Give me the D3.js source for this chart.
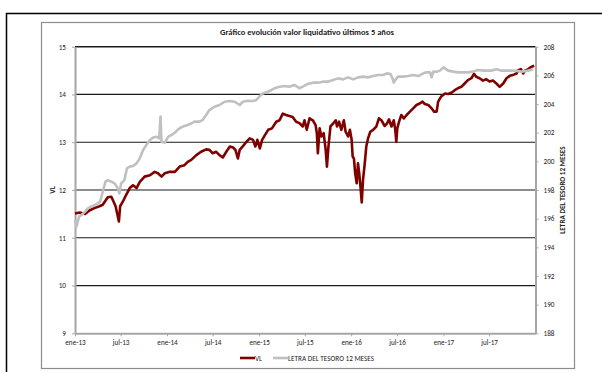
<!DOCTYPE html>
<html>
<head>
<meta charset="utf-8">
<script src="https://cdn.jsdelivr.net/npm/d3@7"></script>
<style>
  html, body { margin: 0; padding: 0; background: #fff; }
  svg { display: block; }
  text { font-family: Carlito, Lato, "Open Sans", sans-serif; fill: #222; }
</style>
</head>
<body>
<svg id="chart" width="602" height="372"></svg>
<script>
// Fund net asset value (left axis)
const vlDates = [
  "2013-01-01","2013-01-20","2013-02-10","2013-02-27","2013-03-19","2013-04-08","2013-04-21","2013-05-11",
  "2013-05-25","2013-05-31","2013-06-11","2013-06-20","2013-06-24","2013-06-29","2013-07-10","2013-07-23",
  "2013-08-06","2013-08-19","2013-09-02","2013-09-15","2013-10-04","2013-10-25","2013-11-13","2013-11-26",
  "2013-12-10","2013-12-23","2014-01-12","2014-02-01","2014-02-20","2014-03-11","2014-03-24","2014-04-07",
  "2014-04-27","2014-05-16","2014-06-05","2014-06-18","2014-07-01","2014-07-15","2014-07-28","2014-08-10",
  "2014-08-24","2014-09-07","2014-09-20","2014-09-29","2014-10-09","2014-10-16","2014-10-29","2014-11-12",
  "2014-11-25","2014-12-08","2014-12-17","2014-12-25","2015-01-04","2015-01-13","2015-01-24","2015-02-06",
  "2015-02-21","2015-03-10","2015-03-23","2015-04-05","2015-04-18","2015-05-01","2015-05-14","2015-05-28",
  "2015-06-10","2015-06-23","2015-06-30","2015-07-09","2015-07-20","2015-08-02","2015-08-13","2015-08-18",
  "2015-08-22","2015-08-29","2015-09-05","2015-09-14","2015-09-22","2015-09-27","2015-10-03","2015-10-11",
  "2015-10-21","2015-11-01","2015-11-06","2015-11-14","2015-11-23","2015-12-03","2015-12-10","2015-12-20",
  "2015-12-27","2016-01-03","2016-01-07","2016-01-12","2016-01-17","2016-01-23","2016-01-28","2016-02-02",
  "2016-02-07","2016-02-12","2016-02-17","2016-02-24","2016-03-01","2016-03-08","2016-03-17","2016-03-28",
  "2016-04-10","2016-04-20","2016-04-30","2016-05-13","2016-05-22","2016-05-30","2016-06-09","2016-06-18",
  "2016-06-24","2016-06-28","2016-07-02","2016-07-09","2016-07-18","2016-07-28","2016-08-08","2016-08-21",
  "2016-09-03","2016-09-16","2016-09-29","2016-10-10","2016-10-19","2016-11-02","2016-11-15","2016-11-25",
  "2016-12-05","2016-12-11","2016-12-22","2017-01-07","2017-01-20","2017-02-03","2017-02-15","2017-02-27",
  "2017-03-13","2017-03-26","2017-04-08","2017-04-22","2017-05-02","2017-05-11","2017-05-24","2017-06-07",
  "2017-06-20","2017-07-03","2017-07-16","2017-07-30","2017-08-12","2017-08-26","2017-09-08","2017-09-21",
  "2017-10-04","2017-10-18","2017-10-24","2017-11-04","2017-11-13","2017-11-20","2017-12-03","2017-12-16",
  "2017-12-27"
];
const vlValues = [
  11.51,11.53,11.50,11.57,11.62,11.66,11.69,11.85,
  11.86,11.79,11.66,11.44,11.34,11.66,11.76,11.90,
  12.04,12.10,12.04,12.17,12.28,12.31,12.38,12.35,
  12.28,12.35,12.38,12.38,12.49,12.52,12.59,12.63,
  12.73,12.80,12.85,12.84,12.77,12.80,12.73,12.68,
  12.80,12.91,12.89,12.84,12.66,12.84,12.92,13.01,
  13.08,13.05,12.91,13.05,12.87,13.05,13.15,13.26,
  13.29,13.43,13.46,13.60,13.57,13.55,13.53,13.43,
  13.40,13.33,13.46,13.26,13.50,13.46,13.36,13.19,
  12.77,13.29,13.12,13.19,12.84,12.49,12.91,13.33,
  13.39,13.46,13.33,13.43,13.26,13.46,13.22,13.12,
  13.26,13.05,12.70,12.66,12.35,12.14,12.56,12.35,
  12.07,11.74,12.21,12.56,12.91,13.08,13.22,13.26,
  13.33,13.50,13.46,13.34,13.39,13.48,13.33,13.46,
  13.26,13.01,13.29,13.43,13.57,13.50,13.57,13.64,
  13.71,13.78,13.81,13.85,13.80,13.78,13.71,13.64,
  13.64,13.85,13.95,14.02,14.01,14.04,14.09,14.13,
  14.16,14.23,14.30,14.34,14.43,14.37,14.34,14.29,
  14.32,14.27,14.29,14.23,14.16,14.23,14.34,14.39,
  14.41,14.44,14.51,14.53,14.44,14.50,14.53,14.58,
  14.60
];

// 12-month Treasury bill index (right axis)
const letraDates = [
  "2013-01-01","2013-01-07","2013-01-17","2013-01-27","2013-02-10","2013-02-21","2013-03-06","2013-03-19",
  "2013-04-02","2013-04-11","2013-04-21","2013-05-02","2013-05-11","2013-05-25","2013-06-07","2013-06-20",
  "2013-06-26","2013-07-03","2013-07-16","2013-07-26","2013-08-06","2013-08-19","2013-09-02","2013-09-15",
  "2013-09-28","2013-10-11","2013-10-25","2013-11-07","2013-11-20","2013-12-01","2013-12-06","2013-12-10",
  "2013-12-23","2014-01-06","2014-01-19","2014-02-01","2014-02-14","2014-02-26","2014-03-11","2014-03-24",
  "2014-04-07","2014-04-20","2014-05-09","2014-05-22","2014-06-05","2014-06-18","2014-07-08","2014-07-28",
  "2014-08-17","2014-09-07","2014-09-26","2014-10-16","2014-10-29","2014-11-18","2014-12-08","2014-12-21",
  "2015-01-04","2015-01-17","2015-02-06","2015-02-19","2015-03-03","2015-03-23","2015-04-12","2015-05-01",
  "2015-05-21","2015-06-10","2015-06-23","2015-07-13","2015-08-02","2015-08-22","2015-09-11","2015-10-01",
  "2015-10-21","2015-11-10","2015-11-30","2015-12-20","2016-01-09","2016-01-29","2016-02-17","2016-03-08",
  "2016-03-28","2016-04-16","2016-05-06","2016-05-22","2016-06-05","2016-06-13","2016-06-18","2016-06-26",
  "2016-07-05","2016-07-25","2016-08-14","2016-09-03","2016-09-23","2016-10-13","2016-10-26","2016-11-09",
  "2016-11-15","2016-11-22","2016-12-05","2016-12-18","2017-01-01","2017-01-07","2017-01-20","2017-02-09",
  "2017-02-27","2017-03-19","2017-04-08","2017-04-28","2017-05-18","2017-06-14","2017-07-10","2017-07-30",
  "2017-08-19","2017-09-15","2017-10-11","2017-11-07","2017-12-03","2017-12-23"
];
const letraValues = [
  195.90,195.44,196.14,196.26,196.49,196.72,196.84,196.95,
  197.07,197.19,197.88,198.58,198.69,198.58,198.46,198.12,
  197.77,198.46,198.69,199.51,199.63,199.67,199.86,200.21,
  200.79,201.14,201.49,201.67,201.72,201.60,203.12,201.37,
  201.30,201.72,201.84,202.00,202.23,202.37,202.47,202.54,
  202.65,202.77,202.77,202.88,203.23,203.58,203.81,203.93,
  204.16,204.21,204.16,203.93,204.16,204.23,204.21,204.28,
  204.56,204.75,204.86,204.98,205.10,205.21,205.26,205.21,
  205.33,205.10,205.21,205.40,205.49,205.49,205.56,205.56,
  205.68,205.79,205.72,205.86,205.72,205.86,205.91,205.86,
  205.95,206.03,206.03,206.14,206.10,205.79,205.49,205.72,
  205.91,205.91,205.95,206.03,205.95,206.14,206.21,206.21,
  205.86,206.26,206.26,206.33,206.56,206.49,206.33,206.26,
  206.21,206.21,206.21,206.26,206.37,206.33,206.33,206.42,
  206.33,206.33,206.33,206.26,206.33,206.42
];

const leftTicks = [9, 10, 11, 12, 13, 14, 15];
const rightTicks = [188, 190, 192, 194, 196, 198, 200, 202, 204, 206, 208];
const xTickDates = ["2013-01-01","2013-07-01","2014-01-01","2014-07-01","2015-01-01","2015-07-01",
                    "2016-01-01","2016-07-01","2017-01-01","2017-07-01"];
const xTickLabels = ["ene-13","jul-13","ene-14","jul-14","ene-15","jul-15",
                     "ene-16","jul-16","ene-17","jul-17"];
const seriesNames = ["VL", "LETRA DEL TESORO 12 MESES"];
const chartTitle = "Gráfico evolución valor liquidativo últimos 5 años";

const parse = d3.utcParse("%Y-%m-%d");
const vl = vlDates.map((d, i) => ({ date: parse(d), value: vlValues[i] }));
const letra = letraDates.map((d, i) => ({ date: parse(d), value: letraValues[i] }));

const plot = { left: 75, right: 535.5, top: 46.7, bottom: 333.3 };

const svg = d3.select("#chart");

// outer frame and chart area frame
svg.append("rect").attr("x", 6.5).attr("y", 13.5).attr("width", 640).attr("height", 400)
  .attr("fill", "none").attr("stroke", "#000").attr("stroke-width", 1.5);
svg.append("rect").attr("x", 41.5).attr("y", 22.5).attr("width", 533).attr("height", 346)
  .attr("fill", "#fff").attr("stroke", "#8c8c8c").attr("stroke-width", 1.2);

const x = d3.scaleUtc()
  .domain([parse("2013-01-01"), parse("2018-01-01")])
  .range([plot.left, plot.right]);
const yL = d3.scaleLinear().domain([9, 15]).range([plot.bottom, plot.top]);
const yR = d3.scaleLinear().domain([188, 208]).range([plot.bottom, plot.top]);

// horizontal gridlines
svg.append("g").selectAll("line")
  .data(leftTicks.filter(t => t > 9))
  .join("line")
  .attr("x1", plot.left).attr("x2", plot.right)
  .attr("y1", d => yL(d)).attr("y2", d => yL(d))
  .attr("stroke", "#1a1a1a").attr("stroke-width", d => d === 15 ? 1.6 : 1.2);

function styleAxis(g) {
  g.select(".domain").attr("stroke", "#a6a6a6").attr("stroke-width", 2);
  g.selectAll(".tick line").attr("stroke", "#a6a6a6").attr("stroke-width", 1);
  g.selectAll(".tick text").attr("font-size", 7.2).attr("fill", "#333")
    .style("font-family", "Carlito, Lato, sans-serif");
}

svg.append("g").attr("transform", `translate(${plot.left},0)`)
  .call(d3.axisLeft(yL).tickValues(leftTicks).tickSize(3).tickSizeOuter(0).tickPadding(6).tickFormat(d3.format("d")))
  .call(styleAxis);

svg.append("g").attr("transform", `translate(${plot.right},0)`)
  .call(d3.axisRight(yR).tickValues(rightTicks).tickSize(3).tickSizeOuter(0).tickPadding(5).tickFormat(d3.format("d")))
  .call(styleAxis);

svg.append("g").attr("transform", `translate(0,${plot.bottom})`)
  .call(d3.axisBottom(x).tickValues(xTickDates.map(parse)).tickSize(3).tickSizeOuter(0).tickPadding(4)
    .tickFormat((d, i) => xTickLabels[i]))
  .call(styleAxis);

// series lines
const lineL = d3.line().x(d => x(d.date)).y(d => yL(d.value));
const lineR = d3.line().x(d => x(d.date)).y(d => yR(d.value));

svg.append("path").datum(vl)
  .attr("d", lineL).attr("fill", "none")
  .attr("stroke", "#800000").attr("stroke-width", 2.6).attr("stroke-linejoin", "round");

svg.append("path").datum(letra)
  .attr("d", lineR).attr("fill", "none")
  .attr("stroke", "#c0c0c0").attr("stroke-width", 2.6).attr("stroke-linejoin", "round");

// title
svg.append("text").attr("x", 307).attr("y", 35).attr("text-anchor", "middle")
  .attr("font-size", 8.5).attr("font-weight", "bold").attr("fill", "#111").text(chartTitle);

// axis titles
svg.append("text").attr("transform", "translate(55,190) rotate(-90)")
  .attr("text-anchor", "middle").attr("font-size", 7.5).attr("font-weight", "bold").attr("fill", "#111")
  .text(seriesNames[0]);
svg.append("text").attr("transform", "translate(565,190) rotate(-90)")
  .attr("text-anchor", "middle").attr("font-size", 7.2).attr("font-weight", "bold").attr("fill", "#111")
  .text(seriesNames[1]);

// legend
const legend = svg.append("g").attr("transform", "translate(240,358)");
const legendColors = ["#800000", "#c0c0c0"];
const legendX = [0, 33];
seriesNames.forEach((name, i) => {
  const g = legend.append("g").attr("transform", `translate(${legendX[i]},0)`);
  g.append("line").attr("x1", 0).attr("x2", 15).attr("y1", 0).attr("y2", 0)
    .attr("stroke", legendColors[i]).attr("stroke-width", 2.6);
  g.append("text").attr("x", 15).attr("y", 2.6).attr("font-size", 7.2).attr("fill", "#333").text(name);
});
</script>
</body>
</html>
